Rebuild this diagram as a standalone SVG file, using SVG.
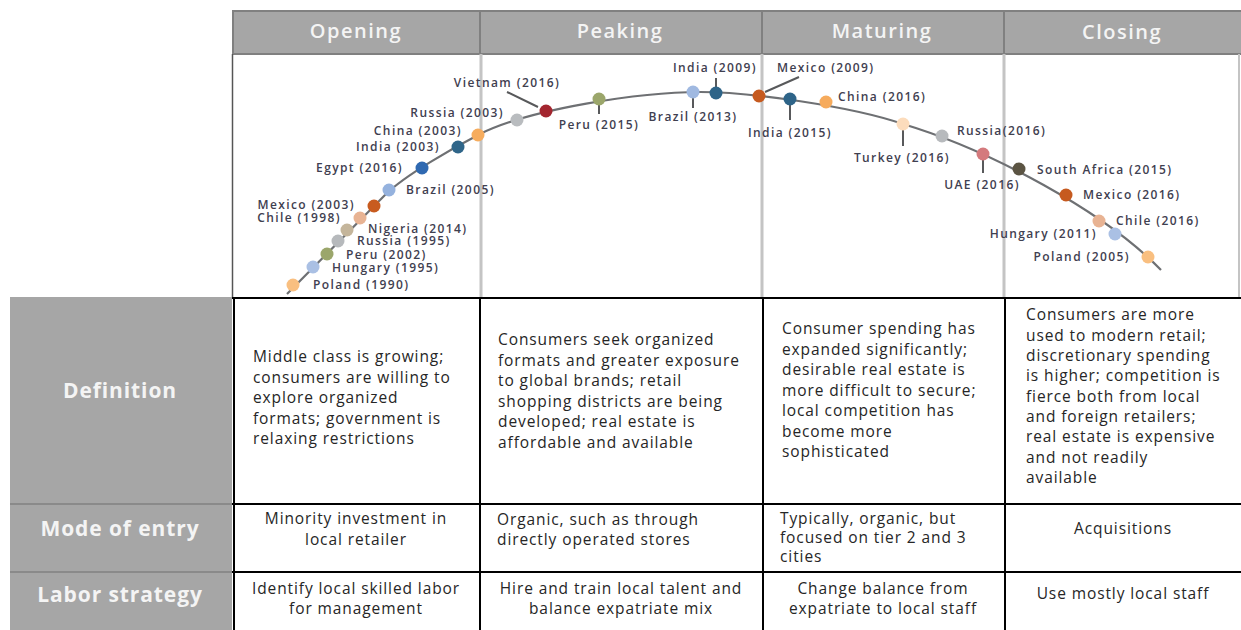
<svg xmlns="http://www.w3.org/2000/svg" width="1241" height="630" viewBox="0 0 1241 630">
<style>
.hdr{fill:#a6a6a6}
.hdrline{stroke:#808080;stroke-width:2;fill:none}
.ht{font-family:"Open Sans","Liberation Sans",sans-serif;font-size:20px;fill:#f4f4f4;text-anchor:middle;font-weight:600;letter-spacing:1.5px}
.rl{font-family:"Open Sans","Liberation Sans",sans-serif;font-size:21px;fill:#f4f4f4;text-anchor:middle;font-weight:700;letter-spacing:0.9px}
.grid{stroke:#000;stroke-width:2;fill:none}
.vg{stroke:#c4c4c4;stroke-width:3;fill:none}
.ct{font-family:"Open Sans","Liberation Sans",sans-serif;font-size:15.5px;fill:#262626;letter-spacing:0.9px}
.mid{text-anchor:middle}
.curve{stroke:#6e7073;stroke-width:2.2;fill:none}
.lead{stroke:#58595b;stroke-width:2;fill:none}
.lb{font-family:"Open Sans","Liberation Sans",sans-serif;font-size:12px;font-weight:600;fill:#3f4050;letter-spacing:1.4px}
.e{text-anchor:end}
.m{text-anchor:middle}
</style>
<rect width="1241" height="630" fill="#fff"/>

<!-- header row -->
<g id="header">
<rect class="hdr" x="232" y="11" width="1009" height="43"/>
<path class="hdrline" d="M232,11 H1241 M232,54 H1241 M233,11 V54 M480,11 V54 M762,11 V54 M1004,11 V54"/>
<text class="ht" x="356" y="38" font-weight="700" letter-spacing="1.8">Opening</text>
<text class="ht" x="620" y="38">Peaking</text>
<text class="ht" x="882" y="38">Maturing</text>
<text class="ht" x="1122" y="39">Closing</text>
</g>

<!-- curve panel -->
<g id="panel">
<path class="vg" d="M481,54 V297 M762,54 V297 M1004,54 V297"/>
<path d="M232.5,54 V297" stroke="#555" stroke-width="1.5"/>
<path d="M1239,54 V297" stroke="#c4c4c4" stroke-width="2"/>
</g>

<!-- row header column -->
<g id="rowheaders">
<rect class="hdr" x="10" y="297" width="222" height="333"/>
<path d="M10,504 H232 M10,572 H232" stroke="#8a8a8a" stroke-width="2"/>
<text class="rl" x="120" y="398">Definition</text>
<text class="rl" x="120" y="536">Mode of entry</text>
<text class="rl" x="120" y="602">Labor strategy</text>
</g>

<!-- table grid -->
<g id="grid">
<path class="grid" d="M232,298 H1241 M232,504 H1241 M232,572 H1241 M234,298 V630 M480,298 V630 M763,298 V630 M1005,298 V630"/>
</g>

<!-- Definition row -->
<g id="def-opening" class="ct">
<text x="253" y="362">Middle class is growing;</text>
<text x="253" y="383">consumers are willing to</text>
<text x="253" y="403">explore organized</text>
<text x="253" y="424">formats; government is</text>
<text x="253" y="444">relaxing restrictions</text>
</g>
<g id="def-peaking" class="ct">
<text x="498" y="345">Consumers seek organized</text>
<text x="498" y="365.5">formats and greater exposure</text>
<text x="498" y="386">to global brands; retail</text>
<text x="498" y="406.5">shopping districts are being</text>
<text x="498" y="427">developed; real estate is</text>
<text x="498" y="447.5">affordable and available</text>
</g>
<g id="def-maturing" class="ct">
<text x="782" y="334">Consumer spending has</text>
<text x="782" y="354.5">expanded significantly;</text>
<text x="782" y="375">desirable real estate is</text>
<text x="782" y="395.5">more difficult to secure;</text>
<text x="782" y="416">local competition has</text>
<text x="782" y="436.5">become more</text>
<text x="782" y="457">sophisticated</text>
</g>
<g id="def-closing" class="ct">
<text x="1026" y="320">Consumers are more</text>
<text x="1026" y="340.5">used to modern retail;</text>
<text x="1026" y="361">discretionary spending</text>
<text x="1026" y="381">is higher; competition is</text>
<text x="1026" y="401.5">fierce both from local</text>
<text x="1026" y="422">and foreign retailers;</text>
<text x="1026" y="442">real estate is expensive</text>
<text x="1026" y="462.5">and not readily</text>
<text x="1026" y="483">available</text>
</g>

<!-- Mode of entry row -->
<g id="entry-opening" class="ct mid">
<text x="356" y="524">Minority investment in</text>
<text x="356" y="545">local retailer</text>
</g>
<g id="entry-peaking" class="ct">
<text x="497" y="525">Organic, such as through</text>
<text x="497" y="545">directly operated stores</text>
</g>
<g id="entry-maturing" class="ct">
<text x="780" y="524">Typically, organic, but</text>
<text x="780" y="543">focused on tier 2 and 3</text>
<text x="780" y="562">cities</text>
</g>
<g id="entry-closing" class="ct mid">
<text x="1123" y="534">Acquisitions</text>
</g>

<!-- Labor strategy row -->
<g id="labor-opening" class="ct mid">
<text x="356" y="594">Identify local skilled labor</text>
<text x="356" y="614">for management</text>
</g>
<g id="labor-peaking" class="ct mid">
<text x="621" y="594">Hire and train local talent and</text>
<text x="621" y="614">balance expatriate mix</text>
</g>
<g id="labor-maturing" class="ct mid">
<text x="883" y="594">Change balance from</text>
<text x="883" y="614">expatriate to local staff</text>
</g>
<g id="labor-closing" class="ct mid">
<text x="1123" y="599">Use mostly local staff</text>
</g>

<!-- connectors: curve and leader lines -->
<g id="connectors">
<path class="curve" d="M287,294 L385,195 C405,175 455,147 480,134 C530,109 640,92 700,92 C750,92 850,106 903,124 C990,150 1105,212 1161,270"/>
<path class="lead" d="M507,92 L538,107 M599,104 V114 M693,98 V108 M716,87 V78 M765,92 L799,77 M790,105 V120 M903,130 V146 M983,160 V173"/>
</g>

<!-- country markers -->
<g id="n-poland-1990"><circle cx="293" cy="285" r="6.5" fill="#f9bf80"/><text class="lb" x="313" y="289">Poland (1990)</text></g>
<g id="n-hungary-1995"><circle cx="313" cy="267" r="6.5" fill="#aac0e4"/><text class="lb" x="332" y="272">Hungary (1995)</text></g>
<g id="n-peru-2002"><circle cx="327" cy="254" r="6.5" fill="#9ba66b"/><text class="lb" x="346" y="259">Peru (2002)</text></g>
<g id="n-russia-1995"><circle cx="338" cy="241" r="6.5" fill="#b6b9bc"/><text class="lb" x="357" y="245">Russia (1995)</text></g>
<g id="n-nigeria-2014"><circle cx="347" cy="230" r="6.5" fill="#c4b59b"/><text class="lb" x="368" y="233">Nigeria (2014)</text></g>
<g id="n-chile-1998"><circle cx="360" cy="218" r="6.5" fill="#e8b393"/><text class="lb e" x="341" y="222">Chile (1998)</text></g>
<g id="n-mexico-2003"><circle cx="374" cy="206" r="6.5" fill="#c85b1f"/><text class="lb e" x="355" y="209">Mexico (2003)</text></g>
<g id="n-brazil-2005"><circle cx="389" cy="190" r="6.5" fill="#95b2de"/><text class="lb" x="406" y="194">Brazil (2005)</text></g>
<g id="n-egypt-2016"><circle cx="422" cy="168" r="6.5" fill="#2f69b1"/><text class="lb e" x="403" y="172">Egypt (2016)</text></g>
<g id="n-india-2003"><circle cx="458" cy="147" r="6.5" fill="#2f6589"/><text class="lb e" x="440" y="151">India (2003)</text></g>
<g id="n-china-2003"><circle cx="478" cy="135" r="6.5" fill="#f6ac5d"/><text class="lb e" x="462" y="135">China (2003)</text></g>
<g id="n-russia-2003"><circle cx="517" cy="120" r="6.5" fill="#b9bcbf"/><text class="lb e" x="504" y="117">Russia (2003)</text></g>
<g id="n-vietnam-2016"><circle cx="546" cy="111" r="6.5" fill="#a3262f"/><text class="lb m" x="507" y="87">Vietnam (2016)</text></g>
<g id="n-peru-2015"><circle cx="599" cy="99" r="6.5" fill="#9ba66b"/><text class="lb m" x="599" y="129">Peru (2015)</text></g>
<g id="n-brazil-2013"><circle cx="693" cy="92" r="6.5" fill="#a0b9e1"/><text class="lb m" x="693" y="121">Brazil (2013)</text></g>
<g id="n-india-2009"><circle cx="716" cy="93" r="6.5" fill="#2e6488"/><text class="lb m" x="715" y="72">India (2009)</text></g>
<g id="n-mexico-2009"><circle cx="759" cy="96" r="6.5" fill="#c65a1f"/><text class="lb" x="777" y="72">Mexico (2009)</text></g>
<g id="n-india-2015"><circle cx="790" cy="99" r="6.5" fill="#2e6488"/><text class="lb m" x="790" y="137">India (2015)</text></g>
<g id="n-china-2016"><circle cx="826" cy="102" r="6.5" fill="#f6ab5d"/><text class="lb" x="838" y="101">China (2016)</text></g>
<g id="n-turkey-2016"><circle cx="903" cy="124" r="6.5" fill="#fcdcbc"/><text class="lb m" x="902" y="162">Turkey (2016)</text></g>
<g id="n-russia-2016"><circle cx="942" cy="136" r="6.5" fill="#b7babd"/><text class="lb" x="957" y="135">Russia(2016)</text></g>
<g id="n-uae-2016"><circle cx="983" cy="154" r="6.5" fill="#d47a7d"/><text class="lb m" x="982" y="189">UAE (2016)</text></g>
<g id="n-southafrica-2015"><circle cx="1019" cy="169" r="6.5" fill="#5b5443"/><text class="lb" x="1037" y="174">South Africa (2015)</text></g>
<g id="n-mexico-2016"><circle cx="1066" cy="195" r="6.5" fill="#c65a1f"/><text class="lb" x="1083" y="199">Mexico (2016)</text></g>
<g id="n-chile-2016"><circle cx="1099" cy="221" r="6.5" fill="#e8b393"/><text class="lb" x="1116" y="225">Chile (2016)</text></g>
<g id="n-hungary-2011"><circle cx="1115" cy="234" r="6.5" fill="#aac0e4"/><text class="lb e" x="1097" y="238">Hungary (2011)</text></g>
<g id="n-poland-2005"><circle cx="1148" cy="257" r="6.5" fill="#f9bf80"/><text class="lb e" x="1130" y="261">Poland (2005)</text></g>
</svg>
